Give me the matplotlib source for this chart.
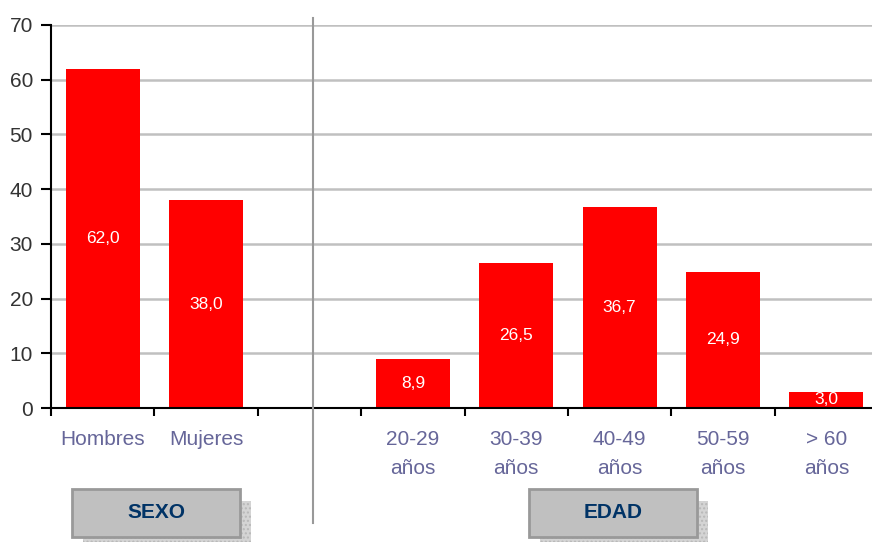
import numpy as np
import matplotlib
matplotlib.use("Agg")
import matplotlib.pyplot as plt
from matplotlib.patches import Rectangle
from matplotlib.lines import Line2D

# Distribution by sex and age group (%)
categories = ["Hombres", "Mujeres", "", "20-29\naños", "30-39\naños",
              "40-49\naños", "50-59\naños", "> 60\naños"]
values = [62.0, 38.0, np.nan, 8.9, 26.5, 36.7, 24.9, 3.0]
y_ticks = [0, 10, 20, 30, 40, 50, 60, 70]
group_labels = ["SEXO", "EDAD"]

plt.rcParams["font.family"] = ["Liberation Sans", "DejaVu Sans"]

W, H = 872, 542
fig = plt.figure(figsize=(W / 100, H / 100), dpi=100)
ax = fig.add_axes([51 / W, (H - 408) / H, (878 - 51) / W, (408 - 25) / H])

x = np.arange(len(categories))
ax.bar(x, values, width=0.715, color="#FF0000", zorder=3)

for xi, v in zip(x, values):
    if np.isnan(v):
        continue
    ax.text(xi, v / 2, f"{v:.1f}".replace(".", ","), ha="center", va="center",
            color="white", fontsize=12.5, zorder=4, clip_on=True)

ax.set_xlim(-0.5, len(categories) - 0.5)
ax.set_ylim(0, 70)
ax.set_yticks(y_ticks)
ax.set_yticklabels([str(t) for t in y_ticks])
ax.yaxis.grid(True, color="#C0C0C0", linewidth=1.8, zorder=0)
ax.set_axisbelow(True)

ax.set_xticks(x)
ax.set_xticklabels(categories, color="#666699", fontsize=15, linespacing=1.65)
ax.set_xticks(np.arange(len(categories) + 1) - 0.5, minor=True)
ax.tick_params(axis="x", which="major", length=0, pad=16)
ax.tick_params(axis="x", which="minor", length=6, width=1.5, color="black",
               direction="out")
ax.tick_params(axis="y", length=7, width=1.5, color="black", pad=6,
               labelsize=15, labelcolor="#333333")

for s in ["top", "right"]:
    ax.spines[s].set_visible(False)
for s in ["left", "bottom"]:
    ax.spines[s].set_linewidth(1.5)
    ax.spines[s].set_color("black")
    ax.spines[s].set_zorder(5)

# Vertical divider between the two groups
fig.add_artist(Line2D([313 / W, 313 / W], [(H - 18) / H, (H - 523) / H],
                      transform=fig.transFigure, color="#999999", linewidth=1.5))

# Group caption boxes with drop shadows
for (x0, label) in zip([72, 529], group_labels):
    bw, bh = 168, 48
    y0 = H - 537
    shadow = Rectangle(((x0 + 11) / W, (y0 - 12) / H), bw / W, bh / H,
                       transform=fig.transFigure, facecolor="#D4D4D4",
                       edgecolor="#B8B8B8", hatch="....", linewidth=0)
    fig.add_artist(shadow)
    box = Rectangle((x0 / W, y0 / H), bw / W, bh / H, transform=fig.transFigure,
                    facecolor="#C0C0C0", edgecolor="#999999", linewidth=2)
    fig.add_artist(box)
    fig.text((x0 + bw / 2) / W, (y0 + bh / 2) / H, label, ha="center",
             va="center", fontsize=15, fontweight="bold", color="#003366")

fig.savefig("out.png", dpi=100)
